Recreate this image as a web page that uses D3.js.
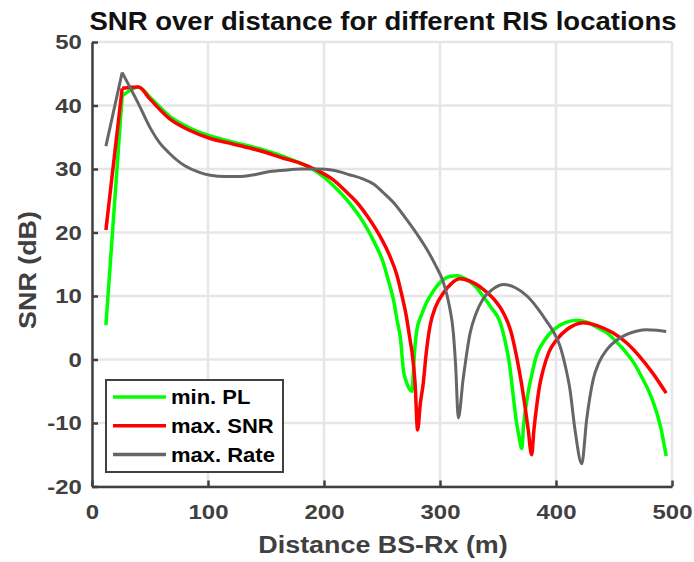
<!DOCTYPE html>
<html>
<head>
<meta charset="utf-8">
<script src="https://cdn.jsdelivr.net/npm/d3@7"></script>
<style>
  body { margin: 0; background: #fff; }
  text { font-family: "Liberation Sans", Arial, sans-serif; font-weight: bold; }
</style>
</head>
<body>
<svg id="chart" width="694" height="562"></svg>
<script>
// values
let xTicks = [0, 100, 200, 300, 400, 500]
let yTicks = [-20, -10, 0, 10, 20, 30, 40, 50]

let minPLDist = [12, 26, 33, 40, 50, 67, 84, 102, 120, 136, 150, 165, 180, 190, 200, 214, 224, 234, 243, 251, 256, 260, 263, 266, 268.4, 271, 275.6, 278.4, 280, 284, 288.5, 295, 303, 309, 315, 322, 330, 337, 344, 352, 356, 360, 363, 366, 368, 370.5, 372, 375, 379, 383, 390, 398, 408, 418, 428, 436, 444, 452, 460, 467, 474, 480, 484, 490, 495]
let minPLSnr = [5.4, 41.5, 42.4, 42.9, 41.3, 38.3, 36.5, 35.2, 34.3, 33.6, 32.9, 32.0, 30.9, 30.0, 28.7, 26.3, 24.2, 21.6, 18.6, 15.3, 12.1, 9.3, 6.2, 3.2, -1.6, -3.5, -5.0, 2.0, 4.6, 7.0, 9.0, 11.0, 12.6, 13.1, 13.2, 12.7, 11.6, 10.0, 8.2, 5.8, 3.0, -0.9, -5.5, -10.0, -12.0, -14.0, -10.5, -6.3, -2.5, 0.5, 3.0, 4.7, 5.8, 6.2, 5.8, 5.0, 4.2, 2.8, 1.2, -0.5, -2.8, -5.0, -6.8, -10.5, -15.2]

let maxSNRDist = [12, 26, 40, 50, 67, 84, 102, 120, 136, 150, 165, 180, 194, 208, 222, 228, 238, 248, 256, 263, 267, 271, 274, 276, 278.5, 280.7, 283, 285.6, 288, 291.4, 296, 303, 310, 317, 325, 337, 346, 355, 361, 366, 370, 373.3, 376, 379, 381, 383.3, 386, 389, 394, 401, 410, 423.5, 436, 449, 461, 472, 484, 495]
let maxSNRSnr = [20.4, 42.7, 42.9, 41.0, 37.9, 36.1, 34.8, 34.0, 33.3, 32.6, 31.7, 30.9, 29.8, 28.3, 25.9, 24.8, 22.4, 19.5, 16.6, 13.2, 10.2, 6.8, 3.3, 1.0, -3.7, -11.1, -7.0, -3.7, 0.8, 5.3, 8.2, 10.5, 12.0, 12.7, 12.4, 11.1, 9.6, 7.2, 4.5, 0.5, -3.5, -7.4, -11.0, -15.0, -11.0, -7.4, -4.0, -1.6, 1.2, 3.2, 4.8, 5.8, 5.3, 4.2, 2.6, 0.5, -2.3, -5.3]

let maxRateDist = [12, 26, 40, 51, 58, 66, 80, 92, 102, 115, 125, 140, 150, 165, 180, 195, 208, 222, 234, 243, 251, 261, 271, 280, 288.5, 296, 303, 308, 311.5, 313.5, 315.8, 320, 326, 331, 337, 345, 355, 365, 375, 384, 392, 398, 403.5, 408, 412, 416.4, 422.2, 426.4, 432, 437, 444, 452, 461, 470, 478, 487, 495]
let maxRateSnr = [33.6, 45.2, 40.3, 36.2, 34.2, 32.6, 30.5, 29.5, 29.0, 28.8, 28.8, 29.1, 29.5, 29.8, 30.0, 30.0, 29.8, 29.1, 28.4, 27.6, 26.3, 24.5, 22.1, 19.8, 17.4, 14.9, 12.1, 8.5, 4.2, -1.0, -9.2, -3.0, 4.2, 7.2, 9.5, 11.0, 11.8, 11.3, 10.0, 8.1, 6.0, 4.3, 2.1, -1.0, -4.7, -11.1, -16.4, -9.5, -3.2, -0.5, 1.6, 3.0, 3.95, 4.5, 4.7, 4.6, 4.4]

let seriesNames = ['min. PL', 'max. SNR', 'max. Rate']
let seriesColors = ['#00ff00', '#ff0000', '#666666']

let series = [
  { name: seriesNames[0], color: seriesColors[0], width: 3.5, xs: minPLDist, ys: minPLSnr },
  { name: seriesNames[1], color: seriesColors[1], width: 3.5, xs: maxSNRDist, ys: maxSNRSnr },
  { name: seriesNames[2], color: seriesColors[2], width: 3, xs: maxRateDist, ys: maxRateSnr }
]

let axisColor = '#404040'
let svg = d3.select('#chart')

let x = d3.scaleLinear().domain([0, 500]).range([92, 672])
let y = d3.scaleLinear().domain([-20, 50]).range([486.5, 42])

// grid
let grid = svg.append('g')
grid.selectAll('.vgrid')
  .data(xTicks)
  .enter()
  .append('line')
  .attr('x1', d => x(d)).attr('x2', d => x(d))
  .attr('y1', y(-20)).attr('y2', y(50))
  .style('stroke', '#e6e6e6').style('stroke-width', 2.5)
grid.selectAll('.hgrid')
  .data(yTicks)
  .enter()
  .append('line')
  .attr('x1', x(0)).attr('x2', x(500))
  .attr('y1', d => y(d)).attr('y2', d => y(d))
  .style('stroke', '#e6e6e6').style('stroke-width', 2.5)

// curves: straight jump at the first sample, smooth after it
let lineStart = d3.line()
  .x(d => x(d[0]))
  .y(d => y(d[1]))
let lineRest = d3.line()
  .x(d => x(d[0]))
  .y(d => y(d[1]))
  .curve(d3.curveMonotoneX)

series.forEach(function (s) {
  let pts = s.xs.map((v, i) => [v, s.ys[i]])
  let g = svg.append('g')
    .style('fill', 'none')
    .style('stroke', s.color)
    .style('stroke-width', s.width)
    .style('stroke-linejoin', 'round')
  g.append('path').datum(pts.slice(0, 2)).attr('d', lineStart)
  g.append('path').datum(pts.slice(1)).attr('d', lineRest)
})

// axes
let fmt = d => String(d)
let xAxis = svg.append('g')
  .attr('transform', `translate(0,${y(-20)})`)
  .call(d3.axisBottom(x).tickValues(xTicks).tickFormat(fmt).tickSizeInner(-6).tickSizeOuter(0).tickPadding(18))
let yAxis = svg.append('g')
  .attr('transform', `translate(${x(0)},0)`)
  .call(d3.axisLeft(y).tickValues(yTicks).tickFormat(fmt).tickSizeInner(-6).tickSizeOuter(0).tickPadding(9))

;[xAxis, yAxis].forEach(function (g) {
  g.attr('font-family', null).attr('font-size', null)
  g.select('.domain').style('stroke', axisColor).style('stroke-width', 2.5)
  g.selectAll('.tick line').style('stroke', axisColor).style('stroke-width', 2.5)
  g.selectAll('.tick text')
    .style('fill', axisColor)
    .style('font-size', '21px')
    .attr('transform', 'scale(1.14,1)')
})

// titles
svg.append('text')
  .attr('x', 383).attr('y', 30)
  .attr('text-anchor', 'middle')
  .attr('textLength', 587)
  .attr('lengthAdjust', 'spacingAndGlyphs')
  .style('font-size', '26px')
  .style('fill', '#111')
  .text('SNR over distance for different RIS locations')

svg.append('text')
  .attr('transform', 'translate(383,553) scale(1.12,1)')
  .attr('text-anchor', 'middle')
  .style('font-size', '24px')
  .style('fill', axisColor)
  .text('Distance BS-Rx (m)')

svg.append('text')
  .attr('transform', 'translate(36,270) rotate(-90) scale(1.12,1)')
  .attr('text-anchor', 'middle')
  .style('font-size', '24px')
  .style('fill', axisColor)
  .text('SNR (dB)')

// legend
let legend = svg.append('g')
legend.append('rect')
  .attr('x', 106).attr('y', 380)
  .attr('width', 177).attr('height', 92)
  .style('fill', '#fff')
  .style('stroke', axisColor)
  .style('stroke-width', 2)

let items = legend.selectAll('.item')
  .data(series)
  .enter()
  .append('g')
  .attr('transform', (d, i) => `translate(0,${397 + i * 28.7})`)
items.append('line')
  .attr('x1', 113).attr('x2', 166)
  .style('stroke', d => d.color)
  .style('stroke-width', 3.5)
items.append('text')
  .attr('transform', 'translate(171,0) scale(1.1,1)')
  .attr('dy', '0.36em')
  .style('font-size', '20px')
  .style('fill', '#000')
  .text(d => d.name)
</script>
</body>
</html>
